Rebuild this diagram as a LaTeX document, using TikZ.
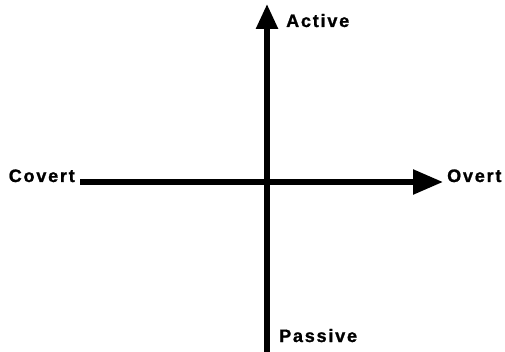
\documentclass[tikz,border=0pt]{standalone}
\usepackage{fontspec}
\setmainfont{Liberation Sans}[LetterSpace=10,BoldFeatures={FakeBold=1.2}]
\usetikzlibrary{arrows.meta}
\begin{document}
\begin{tikzpicture}[x=1pt,y=-1pt,
  axis/.style={line width=5.5pt,line cap=butt},
  lbl/.style={font=\fontsize{18}{21}\selectfont\bfseries,inner sep=0pt}]
\useasboundingbox (0,0) rectangle (505,352);
\coordinate (vbot) at (267,352);
\coordinate (vtop) at (267,4);
\coordinate (hl) at (80,182);
\coordinate (hr) at (443,182);
\draw[axis,-{Triangle[length=25pt,width=21pt]}] (vbot) -- (vtop);
\draw[axis,-{Triangle[length=30pt,width=24pt]}] (hl) -- (hr);
\node[lbl,anchor=base west] (active) at (286,27) {Active};
\node[lbl,anchor=base east] (covert) at (75,182) {Covert};
\node[lbl,anchor=base west] (overt) at (447,182) {Overt};
\node[lbl,anchor=base west] (passive) at (279,342) {Passive};
\end{tikzpicture}
\end{document}
